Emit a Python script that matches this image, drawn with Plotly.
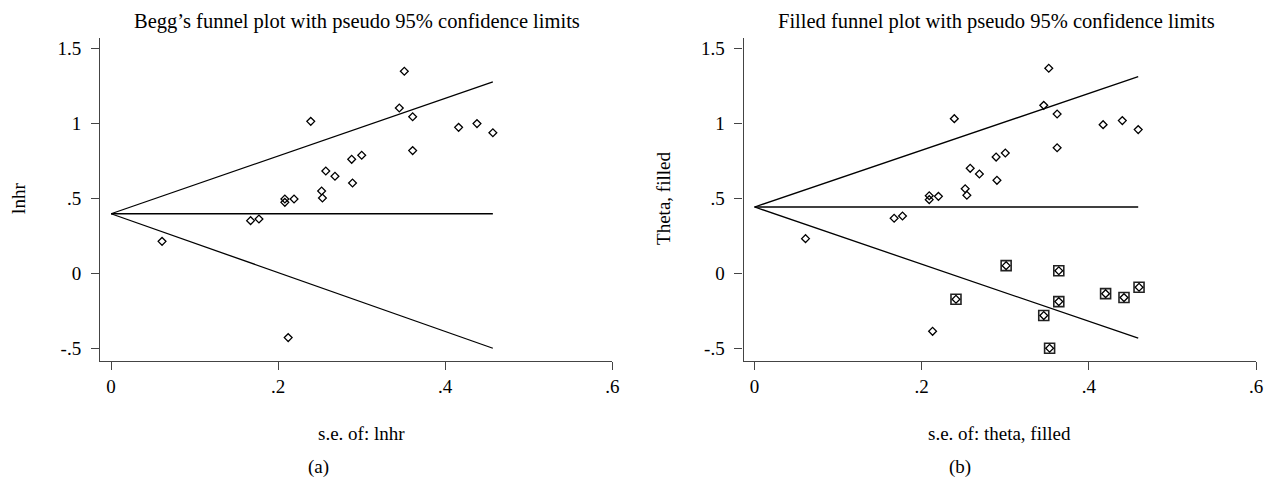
import plotly.graph_objects as go
from plotly.subplots import make_subplots

# (a) Begg's funnel plot - observed studies
begg_se = [0.061, 0.167, 0.177, 0.208, 0.208, 0.219, 0.212, 0.239, 0.252, 0.253, 0.257,
           0.268, 0.288, 0.289, 0.300, 0.345, 0.351, 0.361, 0.361, 0.416, 0.438, 0.457]
begg_theta = [0.213, 0.351, 0.362, 0.495, 0.473, 0.495, -0.429, 1.013, 0.549, 0.502, 0.682,
              0.647, 0.760, 0.602, 0.787, 1.102, 1.347, 1.044, 0.818, 0.973, 0.998, 0.937]

# funnel limits (a)
begg_line_se = [0, 0.457]
begg_center = [0.397, 0.397]
begg_upper = [0.397, 1.277]
begg_lower = [0.397, -0.500]

# (b) trim-and-fill funnel plot - observed studies
filled_se = [0.061, 0.167, 0.177, 0.209, 0.209, 0.220, 0.213, 0.239, 0.252, 0.254, 0.258,
             0.269, 0.289, 0.290, 0.300, 0.346, 0.352, 0.362, 0.362, 0.417, 0.440, 0.459]
filled_theta = [0.231, 0.367, 0.382, 0.517, 0.491, 0.513, -0.387, 1.031, 0.564, 0.520, 0.700,
                0.662, 0.775, 0.620, 0.802, 1.120, 1.367, 1.062, 0.837, 0.991, 1.018, 0.958]

# imputed (filled) studies
imputed_se = [0.241, 0.301, 0.346, 0.353, 0.364, 0.364, 0.420, 0.442, 0.460]
imputed_theta = [-0.173, 0.051, -0.282, -0.500, 0.017, -0.189, -0.136, -0.162, -0.093]

# funnel limits (b)
filled_line_se = [0, 0.459]
filled_center = [0.442, 0.442]
filled_upper = [0.442, 1.311]
filled_lower = [0.442, -0.433]

x_ticks = [0, 0.2, 0.4, 0.6]
x_ticklabels = ['0', '.2', '.4', '.6']
y_ticks = [-0.5, 0, 0.5, 1, 1.5]
y_ticklabels = ['-.5', '0', '.5', '1', '1.5']

FONT = 'Liberation Serif'
W, H = 1274, 478

fig = make_subplots(rows=1, cols=2)

line_style = dict(color='black', width=1.3)
diamond = dict(symbol='diamond-open', size=6, color='black', line=dict(color='black', width=1.3))

# 왼쪽 패널
for ys in (begg_upper, begg_center, begg_lower):
    fig.add_trace(go.Scatter(x=begg_line_se, y=ys, mode='lines', line=line_style), row=1, col=1)
fig.add_trace(go.Scatter(x=begg_se, y=begg_theta, mode='markers', marker=diamond), row=1, col=1)

# 오른쪽 패널
for ys in (filled_upper, filled_center, filled_lower):
    fig.add_trace(go.Scatter(x=filled_line_se, y=ys, mode='lines', line=line_style), row=1, col=2)
fig.add_trace(go.Scatter(x=filled_se, y=filled_theta, mode='markers', marker=diamond), row=1, col=2)
fig.add_trace(go.Scatter(
    x=imputed_se, y=imputed_theta, mode='markers',
    marker=dict(symbol='square-open', size=10, color='#222', line=dict(color='#222', width=1.6)),
), row=1, col=2)
fig.add_trace(go.Scatter(x=imputed_se, y=imputed_theta, mode='markers', marker=diamond), row=1, col=2)

# 축 영역 (pixel -> paper)
x1 = [100.7 / W, 615.7 / W]
x2 = [747.7 / W, 1263.0 / W]
ydom = [1 - 360.7 / H, 1 - 38.3 / H]

axis_common = dict(
    showline=True, linecolor='#444', linewidth=1.3,
    ticks='outside', ticklen=8, tickcolor='#444', tickwidth=1.3,
    showgrid=False, zeroline=False,
    tickfont=dict(family=FONT, size=19, color='black'),
)
fig.update_xaxes(**axis_common, tickvals=x_ticks, ticktext=x_ticklabels, range=[-0.0131, 0.6])
fig.update_yaxes(**axis_common, tickvals=y_ticks, ticktext=y_ticklabels, range=[-0.583, 1.567],
                 ticklabelstandoff=6)
fig.update_layout(
    xaxis=dict(domain=x1), xaxis2=dict(domain=x2),
    yaxis=dict(domain=ydom), yaxis2=dict(domain=ydom),
)


def label(text, x, y, angle=0, size=19):
    fig.add_annotation(text=text, x=x / W, y=1 - y / H, xref='paper', yref='paper',
                       xanchor='center', yanchor='middle',
                       showarrow=False, textangle=angle,
                       font=dict(family=FONT, size=size, color='black'))


label("Begg’s funnel plot with pseudo 95% confidence limits", 359, 22, size=20.5)
label("Filled funnel plot with pseudo 95% confidence limits", 1002, 22, size=20.5)
label('lnhr', 18, 198, angle=-90)
label('Theta, filled', 666.6, 198, angle=-90)
label('s.e. of: lnhr', 363, 433)
label('s.e. of: theta, filled', 1005, 433)
label('(a)', 320, 467)
label('(b)', 965, 467)

fig.update_layout(
    width=W, height=H,
    margin=dict(l=0, r=0, t=0, b=0),
    paper_bgcolor='white', plot_bgcolor='white',
    showlegend=False,
    hovermode=False,
    font=dict(family=FONT, color='black'),
)

# 페이지 기본 여백 제거, 모드바 숨김
fig.write_html('out.html', config={'displayModeBar': False},
               post_script="document.body.style.margin='0';document.body.style.overflow='hidden';")
